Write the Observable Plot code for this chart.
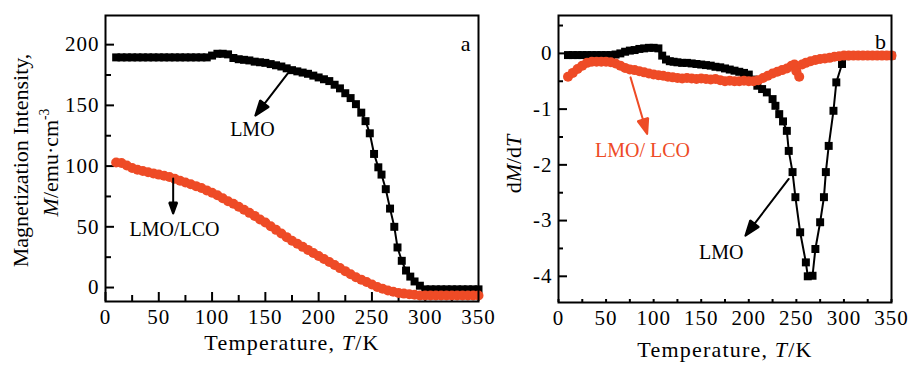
<!DOCTYPE html>
<html><head><meta charset="utf-8">
<script src="https://cdn.jsdelivr.net/npm/d3@7"></script>
<script src="https://cdn.jsdelivr.net/npm/@observablehq/plot@0.6"></script>
<style>
body{margin:0;background:#fff}
#wrap{display:flex;width:909px;height:368px}
#wrap svg{display:block;overflow:visible}
#wrap g[aria-label$="tick label"] text{letter-spacing:1px}
#wrap .title{letter-spacing:1.2px}
</style>
</head><body><div id="wrap"></div>
<script>
// ---------- Panel a: magnetization ----------
const lmoT_a = [10,15,20,25,30,35,40,45,50,55,60,65,70,75,80,85,90,95,100,105,110,115,120,125,130,135,140,145,150,155,160,165,170,175,180,185,190,195,200,205,210,215,220,225,230,235,240,244,248,252,256,259,263,267,271,274,278,282,286,290,295,300,305,310,315,320,325,330,335,340,345,350];
const lmoM_a = [189.5,189.5,189.5,189.5,189.5,189.5,189.5,189.5,189.5,189.5,189.5,189.5,189.5,189.5,189.5,189.5,189.5,189.5,191,192.5,192.5,192,189,188,187.5,187,186,185.5,185,184,183,182,180.5,179,178,177,176,174.5,173,171.5,170,167,164,160,156,151,144,137,127,110,99,93,81,65,50,33,22,14,9,5,1.5,-1.5,-1.5,-1.5,-1.5,-1.5,-1.5,-1.5,-1.5,-1.5,-1.5,-1.5];
const lcoT_a = [10,15,20,25,30,35,40,45,50,55,60,65,70,75,80,85,90,95,100,105,110,115,120,125,130,135,140,145,150,155,160,165,170,175,180,185,190,195,200,205,210,215,220,225,230,235,240,245,250,255,260,265,270,275,280,285,290,295,300,305,310,315,320,325,330,335,340,345,350];
const lcoM_a = [103,102.5,100.5,98.5,97,96,95,94,93,92,91,89.5,88,86.5,85,83.5,82,80,78,76,73.5,71,69,66.5,64,61.5,59,56,53.5,50.5,47.5,44.5,41.5,38.5,36,33.5,31,28.5,26,23.5,21,18.5,16,13.5,11,8.5,6.5,4.5,2.5,0.5,-1,-2.5,-3.5,-4.5,-5,-5.5,-6,-6.5,-6.5,-6.5,-6.5,-6.5,-6.5,-6.5,-6.5,-6.5,-6.5,-6.5,-6.5];

// ---------- Panel b: dM/dT ----------
const lmoT_b = [10,15,20,25,30,35,40,45,50,55,60,65,70,75,80,85,90,95,100,105,109,113,117,121,125,130,135,140,145,150,155,160,165,170,175,180,185,190,195,200,205,209,214,219,225,228,232,236,240,242,246,249,254,260,262,267,270,275,279,281,284,289,292,298,302,306,310,315,320,325,330,335,340,345,350];
const lmoD_b = [-0.03,-0.03,-0.03,-0.03,-0.03,-0.03,-0.03,-0.03,-0.03,-0.03,-0.02,0.0,0.03,0.05,0.06,0.08,0.09,0.1,0.1,0.09,-0.04,-0.11,-0.14,-0.15,-0.16,-0.17,-0.17,-0.18,-0.19,-0.2,-0.21,-0.22,-0.24,-0.25,-0.27,-0.29,-0.31,-0.33,-0.35,-0.38,-0.47,-0.58,-0.64,-0.7,-0.82,-0.94,-1.09,-1.22,-1.39,-1.75,-2.13,-2.58,-3.21,-3.75,-4.0,-3.99,-3.51,-3.03,-2.58,-2.13,-1.66,-1.03,-0.52,-0.19,-0.05,-0.04,-0.04,-0.04,-0.04,-0.04,-0.04,-0.04,-0.04,-0.04,-0.04];
const lcoT_b = [10,15,20,25,30,35,40,45,50,55,60,65,70,75,80,85,90,95,100,105,110,115,120,125,130,135,140,145,150,155,160,165,170,175,180,185,190,195,200,205,210,215,220,225,230,235,240,245,248,250,253,256,260,265,270,275,280,285,290,295,300,305,310,315,320,325,330,335,340,345,350];
const lcoD_b = [-0.42,-0.35,-0.28,-0.22,-0.17,-0.15,-0.15,-0.15,-0.15,-0.16,-0.18,-0.22,-0.26,-0.29,-0.3,-0.32,-0.34,-0.36,-0.38,-0.39,-0.4,-0.42,-0.43,-0.44,-0.45,-0.44,-0.45,-0.46,-0.45,-0.46,-0.47,-0.46,-0.48,-0.5,-0.49,-0.5,-0.5,-0.49,-0.5,-0.5,-0.48,-0.44,-0.4,-0.36,-0.33,-0.3,-0.27,-0.22,-0.2,-0.32,-0.42,-0.2,-0.17,-0.14,-0.12,-0.1,-0.09,-0.08,-0.06,-0.05,-0.04,-0.04,-0.04,-0.04,-0.04,-0.04,-0.04,-0.04,-0.04,-0.04,-0.04];

// ---------- ticks ----------
const xMajor = [0,50,100,150,200,250,300,350];
const xMinor = [25,75,125,175,225,275,325];
const yMajorA = [0,50,100,150,200];
const yMinorA = [25,75,125,175];
const yMajorB = [0,-1,-2,-3,-4];
const yMinorB = [0.5,-0.5,-1.5,-2.5,-3.5];

// ---------- annotations ----------
const arrowsA = [
  {x1:171.6, y1:177, x2:140.6, y2:141.6, c:"black"},
  {x1:63.5, y1:89.7, x2:63.5, y2:60.9, c:"black"}
];
const labelsA = [
  {x:137.8, y:130, t:"LMO", c:"black"},
  {x:64.7, y:47.7, t:"LMO/LCO", c:"black"}
];
const arrowsB = [
  {x1:75.7, y1:-0.43, x2:93.2, y2:-1.446, c:"#EE4B26"},
  {x1:242, y1:-2.253, x2:196.5, y2:-3.27, c:"black"}
];
const labelsB = [
  {x:88.3, y:-1.745, t:"LMO/ LCO", c:"#EE4B26"},
  {x:171, y:-3.57, t:"LMO", c:"black"}
];

const RED = "#EE4B26";
const FONT = "Liberation Serif";
const pts = (T, V) => T.map((t, i) => ({t, v: V[i]}));

function panel({width, ml, mr, mt, mb, ydom, yMajor, yMinor, lmo, lco, xTickMaj, xTickMin, yTickMaj, yTickMin, arrows, labels, letter, letterDx, letterDy, titleDy, ytitles}) {
  const H = 368;
  const innerH = H - mt - mb, innerW = width - ml - mr;
  return Plot.plot({
    width, height: H, marginLeft: ml, marginRight: mr, marginTop: mt, marginBottom: mb,
    style: {fontFamily: FONT, fontSize: "21px", color: "black", background: "none", overflow: "visible"},
    x: {domain: [0, 350]},
    y: {domain: ydom},
    marks: [
      Plot.axisX({ticks: xMajor, tickSize: 0, tickPadding: 8, tickFormat: d => String(d), label: null}),
      Plot.axisY({ticks: yMajor, tickSize: 0, tickPadding: 6, tickFormat: d => String(d), label: null}),
      Plot.tickX(xMajor, {x: d => d, insetTop: innerH - xTickMaj, strokeWidth: 2}),
      Plot.tickX(xMinor, {x: d => d, insetTop: innerH - xTickMin, strokeWidth: 2}),
      Plot.tickY(yMajor, {y: d => d, insetRight: innerW - yTickMaj, strokeWidth: 2}),
      Plot.tickY(yMinor, {y: d => d, insetRight: innerW - yTickMin, strokeWidth: 2}),
      Plot.line(lmo, {x: "t", y: "v", stroke: "black", strokeWidth: 2}),
      Plot.dot(lmo, {x: "t", y: "v", symbol: "square", r: 4.5, fill: "black"}),
      Plot.dot(lco, {x: "t", y: "v", symbol: "circle", r: 5, fill: RED}),
      Plot.arrow(arrows, {x1: "x1", y1: "y1", x2: "x2", y2: "y2", stroke: "c", strokeWidth: 2, headLength: 12, headAngle: 40}),
      Plot.text(labels, {x: "x", y: "y", text: "t", fill: "c", fontSize: 20, fontFamily: FONT}),
      Plot.text([letter], {text: d => d, frameAnchor: "top-right", textAnchor: "middle", dx: letterDx, dy: letterDy, fontSize: 22, fontFamily: FONT}),
      Plot.text(["Temperature, T/K"], {text: d => d, frameAnchor: "bottom", textAnchor: "middle", dy: titleDy, fontSize: 22, fontFamily: FONT}),
      ...ytitles.map(([s, dx, dy]) => Plot.text([s], {text: d => d, frameAnchor: "left", textAnchor: "middle", rotate: -90, dx, dy, fontSize: 22, fontFamily: FONT})),
      Plot.frame({stroke: "black", strokeWidth: 2})
    ]
  });
}

const a = panel({
  width: 490, ml: 105, mr: 12, mt: 15, mb: 67, ydom: [-11.5, 224],
  yMajor: yMajorA, yMinor: yMinorA,
  lmo: pts(lmoT_a, lmoM_a), lco: pts(lcoT_a, lcoM_a),
  xTickMaj: 9, xTickMin: 6, yTickMaj: 9, yTickMin: 6,
  arrows: arrowsA, labels: labelsA, letter: "a", letterDx: -13, letterDy: 20, titleDy: 48,
  ytitles: [["Magnetization Intensity,", -85, 2], ["M/emu·cm-3", -55, 4]]
});
const b = panel({
  width: 419, ml: 68, mr: 18, mt: 15, mb: 66, ydom: [-4.47, 0.68],
  yMajor: yMajorB, yMinor: yMinorB,
  lmo: pts(lmoT_b, lmoD_b), lco: pts(lcoT_b, lcoD_b),
  xTickMaj: 3, xTickMin: 3, yTickMaj: 9, yTickMin: 5,
  arrows: arrowsB, labels: labelsB, letter: "b", letterDx: -11, letterDy: 18, titleDy: 54,
  ytitles: [["dM/dT", -45, 5]]
});

function rich(svg, plain, parts, cls) {
  d3.select(svg).selectAll("text").filter(function () { return this.textContent === plain; }).each(function () {
    const t = d3.select(this);
    t.text(null);
    if (cls) t.classed(cls, true);
    for (const [s, st] of parts) {
      const ts = t.append("tspan").text(s);
      if (st === "i") ts.attr("font-style", "italic");
      if (st === "sup") ts.attr("dy", "-0.6em").attr("font-size", "0.62em");
    }
  });
}
for (const s of [a, b]) {
  rich(s, "Temperature, T/K", [["Temperature, ", ""], ["T", "i"], ["/K", ""]], "title");
  // fill the arrow heads (close the head sub-path and fill it with the stroke colour)
  d3.select(s).selectAll('g[aria-label="arrow"] path').each(function () {
    const p = d3.select(this);
    const col = p.attr("stroke") || d3.select(this.parentNode).attr("stroke") || "black";
    p.attr("d", p.attr("d") + "Z").attr("fill", col).attr("stroke-linejoin", "miter");
  });
}
rich(a, "M/emu·cm-3", [["M", "i"], ["/emu·cm", ""], ["-3", "sup"]]);
rich(b, "dM/dT", [["d", ""], ["M", "i"], ["/d", ""], ["T", "i"]]);

document.getElementById("wrap").append(a, b);
</script></body></html>
